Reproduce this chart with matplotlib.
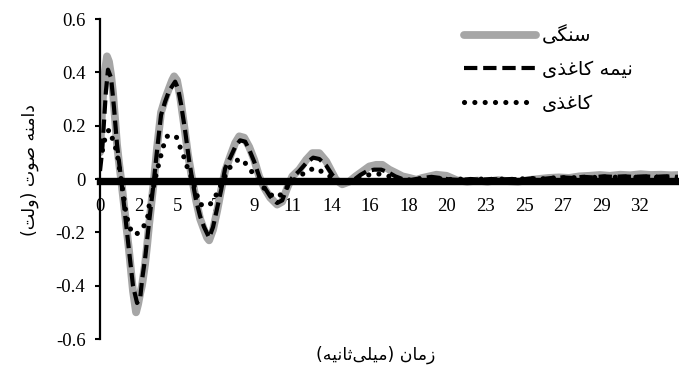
import matplotlib
matplotlib.use("Agg")
import matplotlib.pyplot as plt

plt.rcParams['axes.unicode_minus'] = False
plt.rcParams['font.family'] = ['Liberation Serif', 'DejaVu Sans']

# ---------------- data (time in ms, amplitude in volts) ----------------
t_stone = [0.00, 0.12, 0.24, 0.41, 0.53, 0.65, 0.77, 0.88, 1.00, 1.12, 1.24, 1.47, 1.71, 1.94,
           2.12, 2.24, 2.36, 2.47, 2.65, 2.77, 2.89, 3.06, 3.18, 3.36, 3.59, 3.83, 4.06, 4.24,
           4.36, 4.53, 4.71, 4.95, 5.18, 5.42, 5.65, 5.89, 6.12, 6.30, 6.42, 6.65, 6.89, 7.13,
           7.36, 7.66, 7.95, 8.19, 8.48, 8.78, 9.07, 9.36, 9.66, 10.01, 10.42, 10.72, 11.01,
           11.31, 11.72, 12.13, 12.49, 12.90, 13.31, 13.67, 13.88, 14.25, 14.66, 15.04, 15.43,
           15.84, 16.24, 16.61, 17.02, 17.43, 17.79, 18.20, 18.61, 18.96, 19.38, 19.79, 20.38,
           21.0, 21.6, 22.2, 22.8, 23.4, 24.0, 24.6, 25.2, 25.8, 26.4, 27.0, 27.6, 28.2, 28.8,
           29.4, 30.0, 30.6, 31.2, 31.8, 32.4, 33.0, 33.6, 34.0]
v_stone = [0.10, 0.25, 0.38, 0.46, 0.44, 0.39, 0.32, 0.23, 0.13, 0.06, 0.00, -0.13, -0.27, -0.42,
           -0.50, -0.47, -0.43, -0.40, -0.32, -0.25, -0.17, -0.07, 0.00, 0.12, 0.25, 0.30, 0.34, 0.37,
           0.385, 0.37, 0.31, 0.20, 0.09, 0.00, -0.08, -0.15, -0.19, -0.22, -0.23, -0.19, -0.12, -0.04,
           0.03, 0.085, 0.135, 0.16, 0.155, 0.12, 0.072, 0.01, -0.033, -0.07, -0.096, -0.085, -0.034,
           0.01, 0.035, 0.072, 0.097, 0.097, 0.066, 0.022, -0.003, -0.02, -0.01, 0.01, 0.028,
           0.047, 0.053, 0.053, 0.035, 0.022, 0.01, 0.004, -0.003, 0.004, 0.01, 0.016, 0.012,
           -0.005, -0.01, -0.006, -0.01, -0.004, -0.008, -0.01, -0.004, 0.0, 0.004, 0.006, 0.004, 0.01, 0.012,
           0.015, 0.012, 0.016, 0.014, 0.018, 0.015, 0.016, 0.014, 0.015]

t_half = [0.00, 0.12, 0.24, 0.35, 0.47, 0.65, 0.82, 1.00, 1.24, 1.47, 1.71, 1.94, 2.18, 2.36,
          2.47, 2.65, 2.89, 3.18, 3.36, 3.59, 3.83, 4.06, 4.42, 4.59, 4.77, 5.01, 5.24, 5.42,
          5.65, 5.89, 6.12, 6.42, 6.65, 6.89, 7.13, 7.36, 7.66, 7.95, 8.24, 8.54, 8.78, 9.07,
          9.36, 9.66, 10.01, 10.42, 10.72, 11.01, 11.31, 11.72, 12.13, 12.54, 12.90, 13.31,
          13.67, 14.07, 14.48, 14.90, 15.31, 15.72, 16.13, 16.54, 16.96, 17.37, 17.78, 18.20,
          18.60, 19.0, 19.5, 20.0, 20.6, 21.2, 21.8, 22.4, 23.0, 23.6, 24.2, 24.8, 25.4, 26.0,
          26.6, 27.2, 27.8, 28.4, 29.0, 29.6, 30.2, 30.8, 31.4, 32.0, 32.6, 33.2, 34.0]
v_half = [0.03, 0.10, 0.22, 0.33, 0.41, 0.38, 0.27, 0.13, 0.00, -0.13, -0.27, -0.40, -0.465, -0.45,
          -0.38, -0.30, -0.16, 0.00, 0.11, 0.24, 0.29, 0.33, 0.365, 0.34, 0.28, 0.18, 0.07, 0.00,
          -0.08, -0.14, -0.18, -0.22, -0.18, -0.11, -0.04, 0.04, 0.08, 0.12, 0.145, 0.14, 0.11, 0.065,
          0.01, -0.03, -0.065, -0.09, -0.08, -0.03, 0.005, 0.03, 0.06, 0.08, 0.075, 0.05,
          0.015, -0.01, -0.015, -0.005, 0.015, 0.03, 0.035, 0.035, 0.025, 0.01, 0.0, -0.005,
          0.0, 0.004, 0.008, 0.004, -0.002, -0.004, 0.0, -0.003, 0.0, -0.002, 0.0, -0.002, 0.002, 0.0,
          0.004, 0.006, 0.004, 0.008, 0.006, 0.01, 0.008, 0.01, 0.008, 0.01, 0.008, 0.01, 0.008]

t_paper = [0.00, 0.12, 0.24, 0.41, 0.53, 0.77, 1.00, 1.12, 1.24, 1.51, 1.71, 2.04, 2.30, 2.55,
           2.79, 2.89, 3.08, 3.24, 3.47, 3.71, 3.95, 4.24, 4.48, 4.71, 4.95, 5.18, 5.42, 5.65,
           5.89, 6.18, 6.42, 6.65, 6.83, 7.13, 7.42, 7.71, 8.07, 8.36, 8.72, 9.07, 9.36, 9.72,
           10.07, 10.42, 10.78, 11.13, 11.48, 11.84, 12.31, 12.78, 13.19, 13.67, 14.1, 14.6,
           15.1, 15.6, 16.1, 16.6, 17.1, 17.6, 18.1, 18.7, 19.3, 19.9, 20.5, 21.1, 21.7, 22.3,
           22.9, 23.5, 24.1, 24.7, 25.3, 25.9, 26.5, 27.1, 27.7, 28.3, 28.9, 29.5, 30.1, 30.7,
           31.3, 31.9, 32.5, 33.1, 34.0]
v_paper = [0.07, 0.10, 0.14, 0.17, 0.185, 0.145, 0.10, 0.05, 0.00, -0.12, -0.18, -0.21, -0.20, -0.18,
           -0.15, -0.10, -0.05, 0.00, 0.06, 0.12, 0.16, 0.165, 0.16, 0.12, 0.08, 0.035, 0.00, -0.05,
           -0.095, -0.10, -0.10, -0.08, -0.06, -0.02, 0.02, 0.05, 0.07, 0.075, 0.045, 0.015, -0.01, -0.04,
           -0.06, -0.07, -0.05, -0.02, 0.00, 0.015, 0.035, 0.04, 0.02, 0.005, -0.008, -0.012,
           0.0, 0.012, 0.02, 0.018, 0.008, 0.0, -0.004, 0.0, 0.004, 0.002, -0.002, 0.0, -0.003, 0.0,
           -0.002, 0.0, -0.002, 0.0, 0.002, 0.0, 0.003, 0.005, 0.004, 0.007, 0.005, 0.008, 0.006, 0.008,
           0.006, 0.008, 0.006, 0.008, 0.006]

x_tick_labels = ['0', '2', '5', '7', '9', '11', '14', '16', '18', '20', '23', '25', '27', '29', '32']
y_ticks = [0.6, 0.4, 0.2, 0.0, -0.2, -0.4, -0.6]
y_tick_labels = ['0.6', '0.4', '0.2', '0', '-0.2', '-0.4', '-0.6']

series_names = ['سنگی', 'نیمه کاغذی', 'کاغذی']
x_title = 'زمان (میلی\u200cثانیه)'
y_title = 'دامنه صوت (ولت)'

# ---------------- simple Persian shaping (presentation forms, visual order) ----------------
FORMS = {  # isolated, final, initial, medial
    'ا': ('\uFE8D', '\uFE8E', None, None),
    'د': ('\uFEA9', '\uFEAA', None, None),
    'ذ': ('\uFEAB', '\uFEAC', None, None),
    'ز': ('\uFEAF', '\uFEB0', None, None),
    'و': ('\uFEED', '\uFEEE', None, None),
    'م': ('\uFEE1', '\uFEE2', '\uFEE3', '\uFEE4'),
    'ن': ('\uFEE5', '\uFEE6', '\uFEE7', '\uFEE8'),
    'ه': ('\uFEE9', '\uFEEA', '\uFEEB', '\uFEEC'),
    'ص': ('\uFEB9', '\uFEBA', '\uFEBB', '\uFEBC'),
    'ت': ('\uFE95', '\uFE96', '\uFE97', '\uFE98'),
    'ث': ('\uFE99', '\uFE9A', '\uFE9B', '\uFE9C'),
    'ل': ('\uFEDD', '\uFEDE', '\uFEDF', '\uFEE0'),
    'س': ('\uFEB1', '\uFEB2', '\uFEB3', '\uFEB4'),
    'غ': ('\uFECD', '\uFECE', '\uFECF', '\uFED0'),
    'ی': ('\uFBFC', '\uFBFD', '\uFBFE', '\uFBFF'),
    'ک': ('\uFB8E', '\uFB8F', '\uFB90', '\uFB91'),
    'گ': ('\uFB92', '\uFB93', '\uFB94', '\uFB95'),
}


def shape(text):
    out = []
    n = len(text)
    for i, ch in enumerate(text):
        if ch == '\u200c':
            continue
        if ch not in FORMS:
            out.append(ch)
            continue
        prev = text[i - 1] if i > 0 else ''
        nxt = text[i + 1] if i + 1 < n else ''
        jp = prev in FORMS and FORMS[prev][2] is not None
        jn = nxt in FORMS and FORMS[ch][2] is not None
        iso, fin, ini, med = FORMS[ch]
        if jp and jn:
            out.append(med)
        elif jp:
            out.append(fin)
        elif jn:
            out.append(ini)
        else:
            out.append(iso)
    vis = ''.join(reversed(out))
    return vis.translate(str.maketrans({'(': ')', ')': '('}))


FA = ['DejaVu Sans']

# ---------------- figure ----------------
W, H = 679, 373
fig = plt.figure(figsize=(W / 100, H / 100), dpi=100)
ax = fig.add_axes([100 / W, 34 / H, 578 / W, 320 / H])

gray = '#A6A6A6'
ax.plot(t_stone, v_stone, color=gray, lw=5.6, solid_capstyle='round', solid_joinstyle='round',
        label=shape(series_names[0]), zorder=2)
ax.plot(t_half, v_half, color='black', lw=3.0, linestyle=(0, (3.2, 1.4)), dash_capstyle='butt',
        label=shape(series_names[1]), zorder=2.1)
ax.plot(t_paper, v_paper, color='black', lw=3.7, linestyle=(0, (0.01, 2.0)), dash_capstyle='round',
        label=shape(series_names[2]), zorder=2.2)

ax.set_xlim(0, 34.0)
ax.set_ylim(-0.6, 0.6)

tick_step = 100 / 44.1  # ms between labelled categories
ax.set_xticks([i * tick_step for i in range(len(x_tick_labels))])
ax.set_xticklabels(x_tick_labels)
ax.set_yticks(y_ticks)
ax.set_yticklabels(y_tick_labels)

ax.spines['top'].set_visible(False)
ax.spines['right'].set_visible(False)
ax.spines['left'].set_linewidth(1.6)
ax.spines['bottom'].set_position(('data', -0.008))
ax.spines['bottom'].set_linewidth(5.3)
ax.spines['bottom'].set_zorder(3)
ax.tick_params(axis='x', length=0, pad=12, labelsize=13.5)
ax.tick_params(axis='y', direction='out', length=3.5, width=1.5, pad=7, labelsize=13.5)

leg = ax.legend(loc='upper left', bbox_to_anchor=(464 / W, 1 - 26 / H),
                bbox_transform=fig.transFigure, frameon=False,
                prop={'family': FA, 'size': 14}, handlelength=3.7, handletextpad=0.3,
                labelspacing=0.75, borderpad=0, borderaxespad=0)

fig.text(30 / W, 1 - 170 / H, shape(y_title), rotation=90, ha='center', va='center',
         family=FA, fontsize=12.5)
fig.text(376 / W, 1 - 355 / H, shape(x_title), ha='center', va='center',
         family=FA, fontsize=12.5)

fig.savefig('out.png', dpi=100)
